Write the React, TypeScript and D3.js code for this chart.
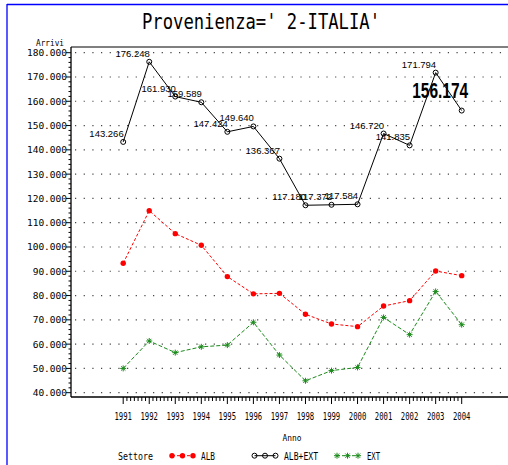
import React, { useEffect, useRef } from 'react';
import * as d3 from 'd3';

// dati
const anni = [1991, 1992, 1993, 1994, 1995, 1996, 1997, 1998, 1999, 2000, 2001, 2002, 2003, 2004];
const albExt = [143266, 176248, 161930, 159589, 147424, 149640, 136367, 117180, 117372, 117584, 146720, 141835, 171794, 156174];
const alb = [93300, 114950, 105500, 100700, 87800, 80700, 80900, 72300, 68300, 67200, 75700, 77900, 90100, 88200];
const ext = [50000, 61300, 56500, 58900, 59600, 69000, 55500, 44900, 49100, 50400, 71000, 63900, 81700, 68000];
const yTicks = [40000, 50000, 60000, 70000, 80000, 90000, 100000, 110000, 120000, 130000, 140000, 150000, 160000, 170000, 180000];

const W = 508;
const H = 465;
const MONO = "'DejaVu Sans Mono', monospace";
const SANS = "'Liberation Sans', Arial, sans-serif";

const it = d3.formatLocale({ decimal: ',', thousands: '.', grouping: [3], currency: ['', ''] });
const fmt = it.format(',.0f');

const starPath = (s: number) => {
  const d = s * 0.72;
  return `M${-s},0L${s},0M0,${-s}L0,${s}M${-d},${-d}L${d},${d}M${-d},${d}L${d},${-d}`;
};

const App = () => {
  const ref = useRef<SVGSVGElement | null>(null);

  useEffect(() => {
    document.body.style.margin = '0';
    const svg = d3.select(ref.current);
    svg.selectAll('*').remove();

    const axisX = 71;
    const frameTop = 47;
    const axisY = 397;

    const x = d3.scaleLinear().domain([1991, 2004]).range([123.2, 461.7]);
    const y = d3.scaleLinear().domain([40000, 180000]).range([392.7, 52.7]);

    svg.append('rect').attr('width', W).attr('height', H).attr('fill', '#fff');

    // bordo blu
    svg.append('line').attr('x1', 7).attr('x2', 7).attr('y1', 4).attr('y2', H).attr('stroke', '#0000ff').attr('stroke-width', 1.3);
    svg.append('line').attr('x1', 7).attr('x2', W).attr('y1', 4.5).attr('y2', 4.5).attr('stroke', '#0000ff').attr('stroke-width', 1.3);

    // titolo
    svg.append('text')
      .attr('x', 261).attr('y', 28.5)
      .attr('text-anchor', 'middle')
      .attr('textLength', 238).attr('lengthAdjust', 'spacingAndGlyphs')
      .style('font-family', MONO).style('font-size', '21px')
      .text("Provenienza=' 2-ITALIA'");

    // griglia
    svg.append('g').selectAll('line').data(yTicks).enter().append('line')
      .attr('x1', axisX + 4).attr('x2', W)
      .attr('y1', d => y(d)).attr('y2', d => y(d))
      .attr('stroke', '#444').attr('stroke-width', 1.2)
      .attr('stroke-dasharray', '1.2 7.47');

    // cornice
    svg.append('line').attr('x1', axisX).attr('x2', W).attr('y1', frameTop).attr('y2', frameTop).attr('stroke', '#000');
    svg.append('line').attr('x1', axisX).attr('x2', W).attr('y1', axisY).attr('y2', axisY).attr('stroke', '#000').attr('stroke-width', 1.3);
    svg.append('line').attr('x1', axisX).attr('x2', axisX).attr('y1', frameTop).attr('y2', axisY).attr('stroke', '#000').attr('stroke-width', 1.3);

    // asse y: tacche
    const yMinor: number[] = [];
    for (let i = 0; i < yTicks.length - 1; i++) {
      for (let k = 1; k < 5; k++) yMinor.push(yTicks[i] + (k * (yTicks[i + 1] - yTicks[i])) / 5);
    }
    svg.append('g').selectAll('line').data(yMinor).enter().append('line')
      .attr('x1', axisX - 2.5).attr('x2', axisX)
      .attr('y1', d => y(d)).attr('y2', d => y(d))
      .attr('stroke', '#000');
    svg.append('g').selectAll('line').data(yTicks).enter().append('line')
      .attr('x1', axisX - 5).attr('x2', axisX)
      .attr('y1', d => y(d)).attr('y2', d => y(d))
      .attr('stroke', '#000');
    svg.append('g').selectAll('text').data(yTicks).enter().append('text')
      .attr('x', 67).attr('y', d => y(d) + 3.5)
      .attr('text-anchor', 'end')
      .style('font-family', MONO).style('font-size', '9.5px')
      .text(d => fmt(d));
    svg.append('text')
      .attr('x', 64).attr('y', 46)
      .attr('text-anchor', 'end')
      .attr('textLength', 28).attr('lengthAdjust', 'spacingAndGlyphs')
      .style('font-family', MONO).style('font-size', '8px')
      .text('Arrivi');

    // asse x: tacche
    const xMinor: number[] = [];
    for (let i = 0; i < anni.length - 1; i++) {
      for (let k = 1; k < 7; k++) xMinor.push(anni[i] + k / 7);
    }
    svg.append('g').selectAll('line').data(xMinor).enter().append('line')
      .attr('x1', d => x(d)).attr('x2', d => x(d))
      .attr('y1', axisY).attr('y2', axisY + 4)
      .attr('stroke', '#000');
    svg.append('g').selectAll('line').data(anni).enter().append('line')
      .attr('x1', d => x(d)).attr('x2', d => x(d))
      .attr('y1', axisY).attr('y2', axisY + 7)
      .attr('stroke', '#000');
    svg.append('g').selectAll('text').data(anni).enter().append('text')
      .attr('x', d => x(d)).attr('y', 419.5)
      .attr('text-anchor', 'middle')
      .attr('textLength', 17.5).attr('lengthAdjust', 'spacingAndGlyphs')
      .style('font-family', MONO).style('font-size', '11px')
      .text(d => String(d));
    svg.append('text')
      .attr('x', 292).attr('y', 440.5)
      .attr('text-anchor', 'middle')
      .attr('textLength', 19).attr('lengthAdjust', 'spacingAndGlyphs')
      .style('font-family', MONO).style('font-size', '8.5px')
      .text('Anno');

    const line = d3.line<number>().x((d, i) => x(anni[i])).y(d => y(d));

    // EXT
    svg.append('path').datum(ext)
      .attr('fill', 'none').attr('stroke', '#1a8a1a').attr('stroke-width', 1)
      .attr('stroke-dasharray', '4 2').attr('d', line);
    svg.append('g').selectAll('path').data(ext).enter().append('path')
      .attr('transform', (d, i) => `translate(${x(anni[i])},${y(d)})`)
      .attr('d', starPath(3))
      .attr('stroke', '#1a8a1a').attr('stroke-width', 1).attr('fill', 'none');

    // ALB
    svg.append('path').datum(alb)
      .attr('fill', 'none').attr('stroke', '#ff0000').attr('stroke-width', 1)
      .attr('stroke-dasharray', '3 2').attr('d', line);
    svg.append('g').selectAll('circle').data(alb).enter().append('circle')
      .attr('cx', (d, i) => x(anni[i])).attr('cy', d => y(d))
      .attr('r', 2.7).attr('fill', '#ff0000');

    // ALB+EXT
    svg.append('path').datum(albExt)
      .attr('fill', 'none').attr('stroke', '#000').attr('stroke-width', 1).attr('d', line);
    svg.append('g').selectAll('circle').data(albExt).enter().append('circle')
      .attr('cx', (d, i) => x(anni[i])).attr('cy', d => y(d))
      .attr('r', 2.5).attr('fill', 'none').attr('stroke', '#000').attr('stroke-width', 1);

    // etichette valori
    const last = albExt.length - 1;
    svg.append('g').selectAll('text').data(albExt.slice(0, last)).enter().append('text')
      .attr('x', (d, i) => x(anni[i]) + 0.5).attr('y', d => y(d) - 5)
      .attr('text-anchor', 'end')
      .style('font-family', SANS).style('font-size', '9.5px')
      .text(d => fmt(d));
    svg.append('text')
      .attr('x', x(anni[last]) + 6.5).attr('y', y(albExt[last]) - 12.3)
      .attr('text-anchor', 'end')
      .attr('textLength', 56).attr('lengthAdjust', 'spacingAndGlyphs')
      .style('font-family', SANS).style('font-size', '22px').style('font-weight', 'bold')
      .text(fmt(albExt[last]));

    // legenda
    const legY = 455.7;
    svg.append('text')
      .attr('x', 118).attr('y', legY + 4)
      .attr('textLength', 35).attr('lengthAdjust', 'spacingAndGlyphs')
      .style('font-family', MONO).style('font-size', '10.5px')
      .text('Settore');

    const legend = [
      { x0: 172, label: 'ALB', lx: 201, lw: 14, color: '#ff0000', dash: '3 2', kind: 'dot' },
      { x0: 254.5, label: 'ALB+EXT', lx: 284, lw: 34, color: '#000', dash: null, kind: 'circle' },
      { x0: 337, label: 'EXT', lx: 367, lw: 13, color: '#1a8a1a', dash: '3 2', kind: 'star' },
    ];
    legend.forEach(l => {
      const g = svg.append('g');
      g.append('line')
        .attr('x1', l.x0).attr('x2', l.x0 + 21)
        .attr('y1', legY).attr('y2', legY)
        .attr('stroke', l.color).attr('stroke-dasharray', l.dash);
      [0, 10.5, 21].forEach(dx => {
        if (l.kind === 'dot') {
          g.append('circle').attr('cx', l.x0 + dx).attr('cy', legY).attr('r', 2.7).attr('fill', l.color);
        } else if (l.kind === 'circle') {
          g.append('circle').attr('cx', l.x0 + dx).attr('cy', legY).attr('r', 2.5)
            .attr('fill', 'none').attr('stroke', l.color);
        } else {
          g.append('path').attr('transform', `translate(${l.x0 + dx},${legY})`)
            .attr('d', starPath(3)).attr('stroke', l.color).attr('fill', 'none');
        }
      });
      g.append('text')
        .attr('x', l.lx).attr('y', legY + 4)
        .attr('textLength', l.lw).attr('lengthAdjust', 'spacingAndGlyphs')
        .style('font-family', MONO).style('font-size', '10.5px')
        .text(l.label);
    });
  }, []);

  return (
    <svg
      ref={ref}
      width={W}
      height={H}
      style={{ position: 'absolute', left: 0, top: 0, display: 'block' }}
    />
  );
};

export default App;
